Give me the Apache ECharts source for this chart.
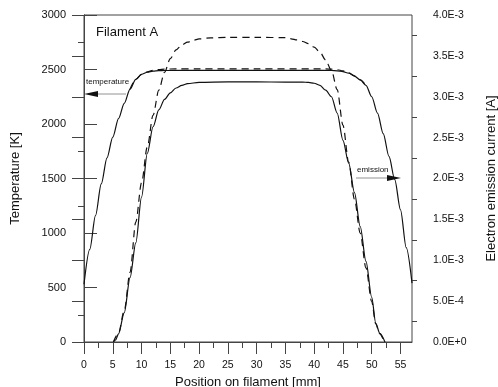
<!DOCTYPE html>
<html>
<head>
<meta charset="utf-8">
<script src="https://cdn.jsdelivr.net/npm/echarts@6/dist/echarts.min.js"></script>
<style>
  html, body { margin: 0; padding: 0; background: #fff; }
  #chart { width: 498px; height: 387px; }
</style>
</head>
<body>
<div id="chart"></div>
<script>
// x tick labels (mm) and minor tick positions
const xTicks = [0, 5, 10, 15, 20, 25, 30, 35, 40, 45, 50, 55];
const xMinorTicks = [2.5, 7.5, 12.5, 17.5, 22.5, 27.5, 32.5, 37.5, 42.5, 47.5, 52.5];
// minor ticks of the two y axes
const tempMinorTicks = [250, 750, 1250, 1750, 2250, 2750];
const emisMinorTicks = [0.25e-3, 0.75e-3, 1.25e-3, 1.75e-3, 2.25e-3, 2.75e-3, 3.25e-3, 3.75e-3];

// temperature along filament [K] (solid, left axis)
const tempX = [0, 1, 2, 3, 4, 5, 6, 7, 8, 9, 10, 11, 12, 13, 14, 20, 30, 40, 43, 44, 45, 46, 47, 48, 49, 50, 51, 52, 53, 54, 55, 56, 57];
const tempY = [530, 850, 1160, 1450, 1690, 1880, 2050, 2190, 2320, 2410, 2455, 2475, 2485, 2489, 2491, 2492, 2492, 2492, 2491, 2488, 2480, 2466, 2440, 2405, 2355, 2250, 2100, 1912, 1703, 1490, 1213, 865, 540];

// second temperature profile (dashed, left axis)
const temp2X = [8, 9, 10, 11, 12, 13, 14, 16, 20, 30, 40, 42, 43, 44, 45, 46, 47, 48, 49];
const temp2Y = [2320, 2410, 2455, 2478, 2492, 2500, 2504, 2505, 2505, 2505, 2505, 2505, 2503, 2498, 2488, 2470, 2442, 2405, 2355];

// electron emission current [A] (solid, right axis)
const emisX = [5.1, 5.5, 6, 7, 8, 9, 10, 11, 12, 13, 14, 15, 16, 17, 18, 20, 25, 30, 35, 38, 39, 40, 41, 42, 43, 44, 45, 46, 47, 48, 49, 50, 50.7, 51.4, 52.3];
const emisY = [0, 0.027e-3, 0.1e-3, 0.36e-3, 0.787e-3, 1.213e-3, 1.773e-3, 2.307e-3, 2.633e-3, 2.84e-3, 2.967e-3, 3.047e-3, 3.107e-3, 3.14e-3, 3.16e-3, 3.176e-3, 3.181e-3, 3.181e-3, 3.18e-3, 3.18e-3, 3.175e-3, 3.165e-3, 3.14e-3, 3.08e-3, 3.0e-3, 2.8e-3, 2.467e-3, 2.187e-3, 1.827e-3, 1.413e-3, 0.987e-3, 0.547e-3, 0.229e-3, 0.107e-3, 0];

// second emission profile (dashed, right axis)
const emis2X = [5.1, 6, 7, 8, 9, 10, 11, 12, 13, 14, 15, 16, 17, 18, 19, 20, 22, 25, 30, 35, 36, 37, 38, 39, 40, 41, 42, 43, 44, 45, 46, 47, 48, 49, 50, 50.7, 51.4, 52.2];
const emis2Y = [0, 0.107e-3, 0.387e-3, 0.853e-3, 1.467e-3, 1.947e-3, 2.387e-3, 2.773e-3, 3.08e-3, 3.3e-3, 3.467e-3, 3.573e-3, 3.633e-3, 3.667e-3, 3.691e-3, 3.707e-3, 3.72e-3, 3.727e-3, 3.727e-3, 3.723e-3, 3.709e-3, 3.696e-3, 3.676e-3, 3.649e-3, 3.607e-3, 3.547e-3, 3.447e-3, 3.32e-3, 3.087e-3, 2.653e-3, 2.2e-3, 1.747e-3, 1.333e-3, 0.907e-3, 0.493e-3, 0.22e-3, 0.1e-3, 0];

const pairs = (xs, ys) => xs.map((x, i) => [x, ys[i]]);

const chart = echarts.init(document.getElementById('chart'));
const font = 'Liberation Sans, Arial, sans-serif';
const axisColor = '#444';
// the main y axes draw ticks on the other side of the flag here
const yTickInside = true;

const lineSeries = (name, xs, ys, yIdx, dashed) => ({
  name,
  type: 'line',
  yAxisIndex: yIdx,
  data: pairs(xs, ys),
  showSymbol: false,
  smooth: 0.3,
  smoothMonotone: 'x',
  lineStyle: { color: '#111', width: 1.2, type: dashed ? [7, 5] : 'solid' },
  z: dashed ? 3 : 2,
});

// an extra y axis that only draws short minor ticks
const minorYAxis = (position, max, values, len) => ({
  type: 'value', position, min: 0, max,
  axisLine: { show: false },
  axisTick: { show: true, inside: false, length: len, customValues: values, lineStyle: { color: axisColor } },
  axisLabel: { show: false },
  splitLine: { show: false },
});

const option = {
  animation: false,
  grid: {
    left: 84, right: 86, top: 15, height: 327,
    outerBoundsMode: 'none', containLabel: false,
    show: true, borderColor: axisColor, borderWidth: 1,
  },
  graphic: [
    { type: 'text', left: 96, top: 26, style: { text: 'Filament A', font: '13px ' + font, fill: '#111' } },
    { type: 'text', left: 86, top: 78, style: { text: 'temperature', font: '8px ' + font, fill: '#111' } },
    { type: 'line', shape: { x1: 97, y1: 94, x2: 126, y2: 94 }, style: { stroke: '#777', lineWidth: 0.8 } },
    { type: 'polygon', shape: { points: [[84, 94], [98, 91], [98, 97]] }, style: { fill: '#111' } },
    { type: 'text', left: 357, top: 166, style: { text: 'emission', font: '8px ' + font, fill: '#111' } },
    { type: 'line', shape: { x1: 356, y1: 178, x2: 388, y2: 178 }, style: { stroke: '#777', lineWidth: 0.8 } },
    { type: 'polygon', shape: { points: [[401, 178], [387, 175], [387, 181]] }, style: { fill: '#111' } },
  ],
  xAxis: [
    {
      type: 'value', min: 0, max: 57,
      name: 'Position on filament [mm]', nameLocation: 'middle', nameGap: 30,
      nameTextStyle: { fontSize: 13, color: '#111', fontFamily: font },
      axisLine: { show: true, lineStyle: { color: axisColor } },
      axisTick: { show: true, inside: false, length: 12, customValues: xTicks, lineStyle: { color: axisColor } },
      axisLabel: { customValues: xTicks, fontSize: 10.5, color: '#111', fontFamily: font, margin: 18 },
      splitLine: { show: false },
    },
    {
      type: 'value', min: 0, max: 57, position: 'bottom',
      axisLine: { show: false },
      axisTick: { show: true, inside: false, length: 6, customValues: xMinorTicks, lineStyle: { color: axisColor } },
      axisLabel: { show: false },
      splitLine: { show: false },
    },
  ],
  yAxis: [
    {
      type: 'value', position: 'left', min: 0, max: 3000, interval: 500,
      name: 'Temperature [K]', nameLocation: 'middle', nameGap: 62, nameRotate: 90,
      nameTextStyle: { fontSize: 13, color: '#111', fontFamily: font },
      axisLine: { show: true, lineStyle: { color: axisColor } },
      axisTick: { show: true, inside: yTickInside, length: 13, lineStyle: { color: axisColor } },
      minorTick: { show: false },
      axisLabel: { fontSize: 11, color: '#111', fontFamily: font, margin: 18, formatter: v => String(v) },
      splitLine: { show: false },
    },
    {
      type: 'value', position: 'right', min: 0, max: 0.004, interval: 0.0005,
      name: 'Electron emission current [A]', nameLocation: 'middle', nameGap: 73, nameRotate: 90,
      nameTextStyle: { fontSize: 13, color: '#111', fontFamily: font },
      axisLine: { show: true, lineStyle: { color: axisColor } },
      axisTick: { show: true, inside: yTickInside, length: 12, lineStyle: { color: axisColor } },
      minorTick: { show: false },
      axisLabel: {
        fontSize: 10.5, color: '#111', fontFamily: font, margin: 21,
        formatter: v => v.toExponential(1).replace('e', 'E'),
      },
      splitLine: { show: false },
    },
    minorYAxis('left', 3000, tempMinorTicks, 6),
    minorYAxis('right', 0.004, emisMinorTicks, 5),
  ],
  series: [
    lineSeries('temperature', tempX, tempY, 0, false),
    lineSeries('temperature 2', temp2X, temp2Y, 0, true),
    lineSeries('emission', emisX, emisY, 1, false),
    lineSeries('emission 2', emis2X, emis2Y, 1, true),
  ],
};

chart.setOption(option);
</script>
</body>
</html>
